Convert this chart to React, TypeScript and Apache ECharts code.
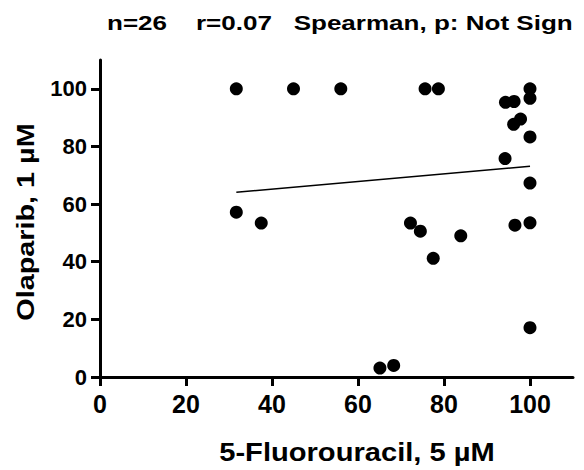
import React, { useEffect, useRef } from "react";
import * as echarts from "echarts";

const fluorouracil = [31.7, 45.0, 56.0, 75.6, 78.7, 100, 100, 94.3, 96.3, 96.2, 97.8, 100, 94.2, 100, 31.7, 37.5, 72.2, 74.5, 83.9, 77.5, 96.5, 100, 100, 65.1, 68.3];
const olaparib = [100, 100, 100, 100, 100, 100, 96.7, 95.3, 95.6, 87.7, 89.5, 83.3, 75.8, 67.3, 57.2, 53.4, 53.4, 50.6, 49.0, 41.2, 52.7, 53.5, 17.1, 3.1, 4.0];
const fitX = [31.7, 100];
const fitY = [64.1, 73.1];
const tickValues = [0, 20, 40, 60, 80, 100];
const titleText = "n=26    r=0.07   Spearman, p: Not Sign";
const xName = "5-Fluorouracil, 5 µM";
const yName = "Olaparib, 1 µM";

const FONT = "'Liberation Sans', Arial, Helvetica, sans-serif";

export default function App() {
  const ref = useRef<HTMLDivElement>(null);
  useEffect(() => {
    if (!ref.current) return;
    const chart = echarts.init(ref.current, undefined, { renderer: "svg" });
    const axisCommon = {
      type: "value" as const,
      min: 0,
      max: 110,
      splitLine: { show: false },
      axisLine: { show: true, lineStyle: { color: "#000", width: 3 } },
      axisTick: { show: true, length: 9, lineStyle: { color: "#000", width: 3 }, customValues: tickValues },
    };
    chart.setOption({
      animation: false,
      backgroundColor: "#fff",
      grid: { left: 100, right: 11, top: 60, bottom: 93, containLabel: false },
      xAxis: {
        ...axisCommon,
        axisLabel: { customValues: tickValues, fontFamily: FONT, fontSize: 25, fontWeight: "bold", color: "#000", margin: 14 },
      },
      yAxis: {
        ...axisCommon,
        axisLabel: { customValues: tickValues, fontFamily: FONT, fontSize: 22, fontWeight: "bold", color: "#000", margin: 13 },
      },
      graphic: [
        {
          type: "text",
          x: 107,
          y: 23,
          scaleX: 1.24,
          style: { text: titleText, fontFamily: FONT, fontSize: 21, fontWeight: "bold", fill: "#000", align: "left", verticalAlign: "middle" },
        },
        {
          type: "text",
          x: 357,
          y: 452,
          scaleX: 1.12,
          style: { text: xName, fontFamily: FONT, fontSize: 26, fontWeight: "bold", fill: "#000", align: "center", verticalAlign: "middle" },
        },
        {
          type: "text",
          x: 26,
          y: 222,
          rotation: Math.PI / 2,
          scaleX: 1.2,
          style: { text: yName, fontFamily: FONT, fontSize: 24, fontWeight: "bold", fill: "#000", align: "center", verticalAlign: "middle" },
        },
      ],
      series: [
        {
          type: "scatter",
          data: fluorouracil.map((x, i) => [x, olaparib[i]]),
          symbol: "circle",
          symbolSize: 13,
          itemStyle: { color: "#000", opacity: 1 },
          z: 3,
        },
        {
          type: "line",
          data: fitX.map((x, i) => [x, fitY[i]]),
          symbol: "none",
          lineStyle: { color: "#000", width: 1.5 },
          z: 2,
        },
      ],
    });
    return () => chart.dispose();
  }, []);
  return <div ref={ref} style={{ position: "fixed", left: 0, top: 0, width: 584, height: 470 }} />;
}
